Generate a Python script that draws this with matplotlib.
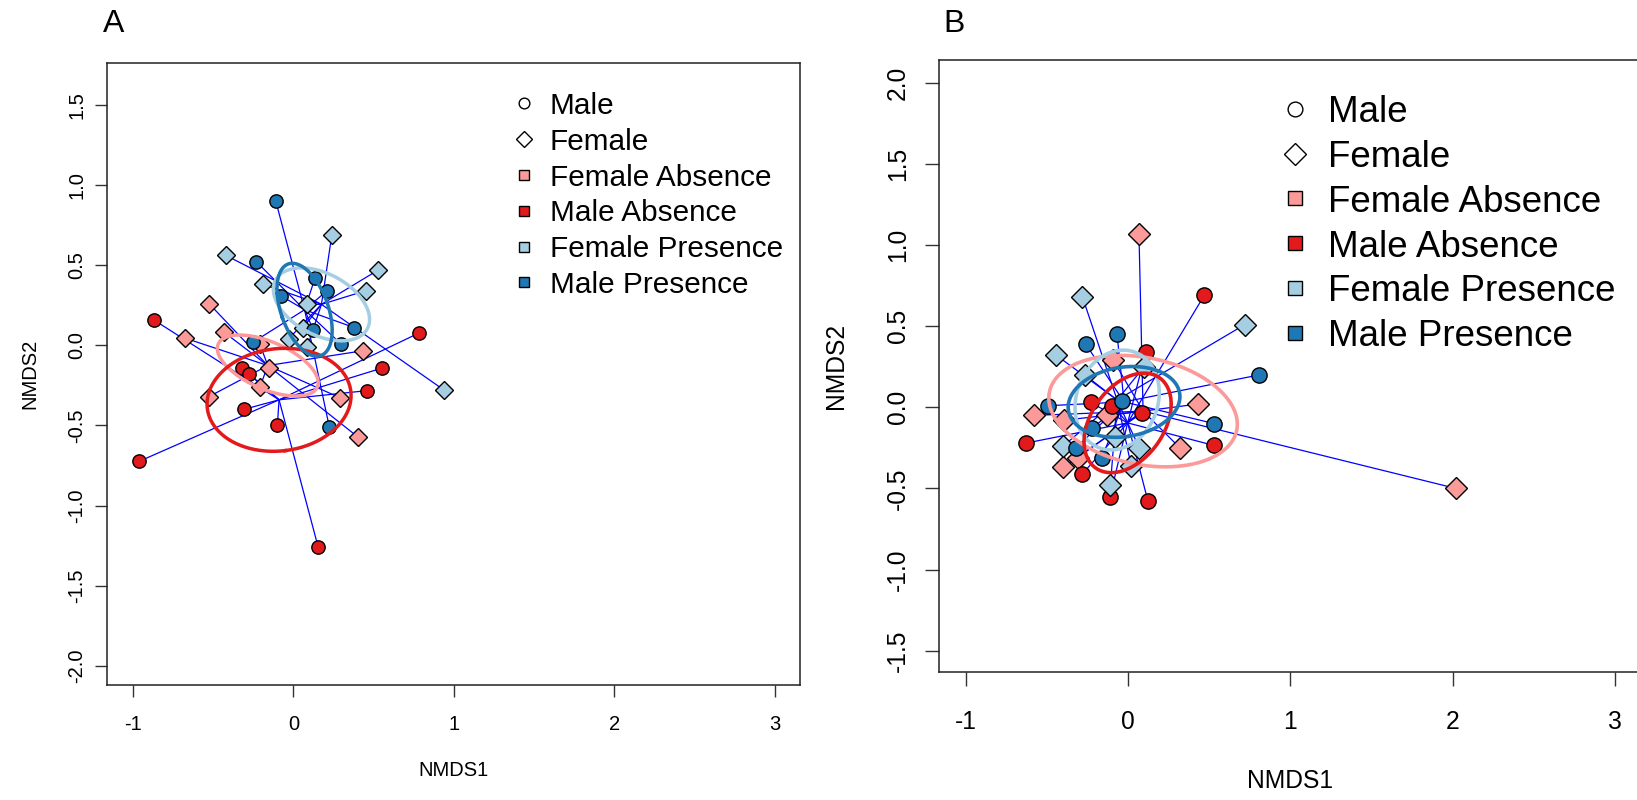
import numpy as np
import matplotlib
matplotlib.use('Agg')
import matplotlib.pyplot as plt
from matplotlib.lines import Line2D

plt.rcParams['font.family'] = ['Liberation Sans', 'DejaVu Sans']

# ---------------- data ----------------
groups = ['Female Absence', 'Male Absence', 'Female Presence', 'Male Presence']
group_colors = ['#FB9A99', '#E31A1C', '#A6CEE3', '#1F78B4']
group_markers = ['D', 'o', 'D', 'o']
legend_labels = ['Male', 'Female', 'Female Absence', 'Male Absence',
                 'Female Presence', 'Male Presence']

# Panel A
a_fa_x = [-0.526, -0.674, -0.43, -0.152, -0.208, -0.526, 0.29, 0.405, 0.434, -0.21]
a_fa_y = [0.26, 0.044, 0.08, -0.143, -0.26, -0.32, -0.327, -0.574, -0.034, 0.01]
a_ma_x = [-0.87, -0.96, -0.32, -0.275, -0.31, -0.10, 0.155, 0.457, 0.55, 0.78]
a_ma_y = [0.158, -0.723, -0.144, -0.18, -0.40, -0.50, -1.26, -0.283, -0.143, 0.075]
a_fp_x = [-0.42, 0.24, -0.19, 0.53, 0.45, 0.085, 0.058, -0.03, 0.087, 0.94]
a_fp_y = [0.56, 0.69, 0.38, 0.47, 0.34, 0.255, 0.106, 0.04, -0.01, -0.28]
a_mp_x = [-0.11, -0.23, 0.135, 0.21, -0.08, 0.38, 0.124, -0.25, 0.295, 0.224]
a_mp_y = [0.90, 0.52, 0.42, 0.34, 0.31, 0.11, 0.095, 0.02, 0.01, -0.51]

# Panel B
b_fa_x = [0.068, 2.02, 0.43, 0.32, -0.58, -0.40, -0.09, -0.13, -0.395, -0.31]
b_fa_y = [1.065, -0.50, 0.02, -0.25, -0.05, -0.37, 0.29, -0.05, -0.08, -0.31]
b_ma_x = [0.47, 0.11, -0.23, -0.095, 0.087, -0.625, 0.53, -0.28, -0.11, 0.124]
b_ma_y = [0.69, 0.34, 0.03, 0.01, -0.035, -0.22, -0.235, -0.41, -0.55, -0.58]
b_fp_x = [-0.28, 0.72, -0.44, -0.266, 0.10, -0.08, -0.40, 0.07, 0.02, -0.108]
b_fp_y = [0.68, 0.51, 0.32, 0.20, 0.25, -0.18, -0.24, -0.25, -0.36, -0.48]
b_mp_x = [-0.067, -0.26, 0.81, -0.49, -0.038, 0.53, -0.22, -0.32, -0.16]
b_mp_y = [0.45, 0.39, 0.20, 0.01, 0.04, -0.10, -0.13, -0.25, -0.31]

x_ticks = [-1, 0, 1, 2, 3]
x_tick_labels = ['-1', '0', '1', '2', '3']
a_y_ticks = [-2.0, -1.5, -1.0, -0.5, 0.0, 0.5, 1.0, 1.5]
b_y_ticks = [-1.5, -1.0, -0.5, 0.0, 0.5, 1.0, 1.5, 2.0]

panel_a = [(a_fa_x, a_fa_y), (a_ma_x, a_ma_y), (a_fp_x, a_fp_y), (a_mp_x, a_mp_y)]
panel_b = [(b_fa_x, b_fa_y), (b_ma_x, b_ma_y), (b_fp_x, b_fp_y), (b_mp_x, b_mp_y)]

# ---------------- figure ----------------
W, H = 1637, 800
fig = plt.figure(figsize=(W / 100, H / 100), dpi=100)

CHI = np.sqrt(-2 * np.log(0.05))  # sqrt(qchisq(0.95, 2))


def add_axes_px(left, top, right, bottom):
    return fig.add_axes([left / W, 1 - bottom / H, (right - left) / W, (bottom - top) / H])


def se_ellipse(x, y):
    X = np.column_stack([x, y])
    n = len(x)
    c = X.mean(axis=0)
    cov = np.cov(X.T) / n
    vals, vecs = np.linalg.eigh(cov)
    t = np.linspace(0, 2 * np.pi, 300)
    circ = np.vstack([np.cos(t), np.sin(t)])
    pts = vecs @ (np.sqrt(vals)[:, None] * circ) * CHI
    return c[0] + pts[0], c[1] + pts[1]


def draw_panel(ax, data, xlim, ylim, yticks, ms_o, ms_d, fs, tick_len, xpad, ypad,
               ell_order, ell_lw):
    # spiders
    for (x, y) in data:
        cx, cy = np.mean(x), np.mean(y)
        for xi, yi in zip(x, y):
            ax.plot([cx, xi], [cy, yi], color='#0000FF', lw=0.9, zorder=2,
                    solid_capstyle='butt')
    # points
    for (x, y), col, mk in zip(data, group_colors, group_markers):
        ax.plot(x, y, linestyle='none', marker=mk, ms=ms_o if mk == 'o' else ms_d,
                mfc=col, mec='black', mew=1.0, zorder=3)
    # ellipses
    for gi in ell_order:
        ex, ey = se_ellipse(*data[gi])
        ax.plot(ex, ey, color=group_colors[gi], lw=ell_lw, zorder=4)

    ax.set_xlim(*xlim)
    ax.set_ylim(*ylim)
    ax.set_xticks(x_ticks)
    ax.set_xticklabels(x_tick_labels)
    ax.set_yticks(yticks)
    ax.set_yticklabels(['%.1f' % v for v in yticks])
    ax.tick_params(axis='both', direction='out', length=tick_len, width=1.0,
                   labelsize=fs, color='#333333')
    ax.tick_params(axis='x', pad=xpad)
    ax.tick_params(axis='y', pad=ypad)
    for lab in ax.get_yticklabels():
        lab.set_rotation(90)
        lab.set_va('center')
        lab.set_ha('right')
    for s in ax.spines.values():
        s.set_linewidth(1.1)
        s.set_color('#222222')


def draw_legend(mx, tx, rows, fs_px, ms_sym, ms_dia, ms_sq):
    fs_pt = fs_px * 0.72
    handles = [('o', 'white', ms_sym), ('D', 'white', ms_dia)] + \
              [('s', c, ms_sq) for c in group_colors]
    for (mk, fc, ms), lab, ry in zip(handles, legend_labels, rows):
        fig.add_artist(Line2D([mx / W], [1 - ry / H], transform=fig.transFigure,
                              marker=mk, ms=ms, mfc=fc, mec='black', mew=1.0,
                              linestyle='none'))
        fig.text(tx / W, 1 - (ry + 0.36 * fs_px) / H, lab, fontsize=fs_pt,
                 ha='left', va='baseline')


# Panel A
axA = add_axes_px(107.3, 63.3, 800.0, 685.0)
draw_panel(axA, panel_a, (-1.16, 3.158), (-2.118, 1.758), a_y_ticks,
           ms_o=9.6, ms_d=8.8, fs=14.5, tick_len=8.9, xpad=12.5, ypad=6.0,
           ell_order=[0, 1, 2, 3], ell_lw=2.5)
axA.set_xlabel('NMDS1', fontsize=14.5)
axA.set_ylabel('NMDS2', fontsize=14.5)
axA.xaxis.set_label_coords(0.5, (685 - 771) / (685 - 63.3))
axA.yaxis.set_label_coords((30 - 107.3) / (800 - 107.3), 0.5)
axA.xaxis.label.set_va('center')
axA.yaxis.label.set_va('center')
fig.text(113.3 / W, 1 - 32.3 / H, 'A', fontsize=23, ha='center', va='baseline')
draw_legend(524.0, 549.5, [103.3 + 35.8 * i for i in range(6)], 29.8,
            ms_sym=7.7, ms_dia=8.1, ms_sq=7.7)

# Panel B
axB = add_axes_px(938.7, 60.0, 1642.0, 671.7)
draw_panel(axB, panel_b, (-1.165, 3.165), (-1.629, 2.14), b_y_ticks,
           ms_o=11.0, ms_d=11.4, fs=17.7, tick_len=10.3, xpad=17.0, ypad=10.4,
           ell_order=[0, 2, 1, 3], ell_lw=2.6)
axB.set_xlabel('NMDS1', fontsize=17.7)
axB.set_ylabel('NMDS2', fontsize=17.7)
axB.xaxis.set_label_coords(0.5, (671.7 - 781) / (671.7 - 60.0))
axB.yaxis.set_label_coords((836 - 938.7) / (1642.0 - 938.7), 0.5)
axB.xaxis.label.set_va('center')
axB.yaxis.label.set_va('center')
fig.text(953.7 / W, 1 - 32.3 / H, 'B', fontsize=23, ha='center', va='baseline')
draw_legend(1294.7, 1328.3, [108.6 + 44.9 * i for i in range(6)], 36.7,
            ms_sym=10.6, ms_dia=10.7, ms_sq=10.6)

fig.savefig('out.png', dpi=100)
